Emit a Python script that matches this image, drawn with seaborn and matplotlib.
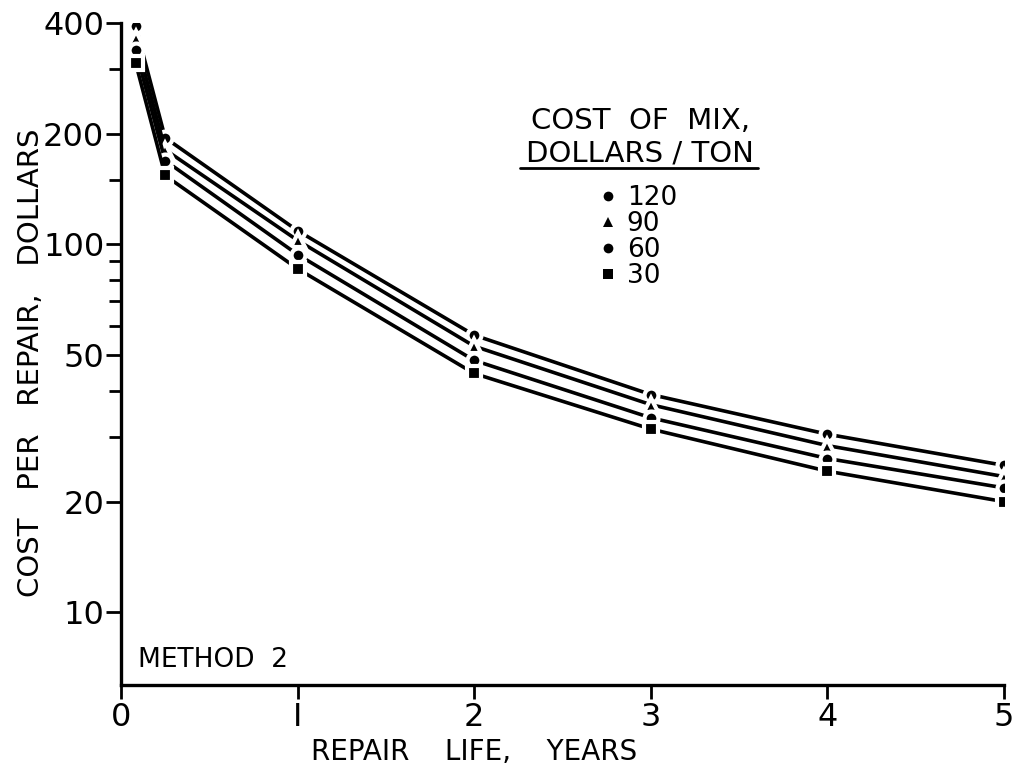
import pandas as pd
import numpy as np
import matplotlib
matplotlib.use("Agg")
import matplotlib.pyplot as plt
from matplotlib.ticker import FixedLocator, NullFormatter
import seaborn as sns

# repair life (years) and cost per repair (dollars) for each cost of mix
years = [1 / 12, 0.25, 1, 2, 3, 4, 5]
cost_120 = [392, 195, 109, 56.7, 39.1, 30.5, 25.1]
cost_90 = [363, 181, 102.6, 52.9, 36.7, 28.4, 23.4]
cost_60 = [337, 169, 93.9, 48.4, 33.8, 26.2, 21.8]
cost_30 = [311, 154, 85.9, 44.6, 31.5, 24.2, 20.0]
mix_labels = ["120", "90", "60", "30"]

y_major = [10, 20, 50, 100, 200, 400]
y_minor = [30, 40, 60, 70, 80, 90, 150, 300]
x_ticks = [0, 1, 2, 3, 4, 5]

rows = []
for lab, vals in zip(mix_labels, [cost_120, cost_90, cost_60, cost_30]):
    for x, v in zip(years, vals):
        rows.append({"years": x, "cost": v, "mix": lab})
df = pd.DataFrame(rows)

sns.set_style("ticks", {"axes.edgecolor": "black", "text.color": "black",
                        "axes.labelcolor": "black", "xtick.color": "black",
                        "ytick.color": "black"})
plt.rcParams['font.family'] = ['DejaVu Sans']

fig = plt.figure(figsize=(10.15, 7.65), dpi=100)
ax = fig.add_axes([0.1192, 0.1046, 0.870, 0.8654])

sns.lineplot(data=df, x="years", y="cost", hue="mix", style="mix",
             hue_order=mix_labels, style_order=mix_labels,
             palette=["black"] * 4,
             markers={"120": "o", "90": "^", "60": "o", "30": "s"},
             dashes=False, lw=2.6, markersize=10, markeredgecolor="white",
             markeredgewidth=3, ax=ax, legend=True)

ax.set_yscale("log")
ax.set_ylim(6.35, 400)
ax.set_xlim(0, 5)
ax.yaxis.set_major_locator(FixedLocator(y_major))
ax.yaxis.set_minor_locator(FixedLocator(y_minor))
ax.yaxis.set_minor_formatter(NullFormatter())
ax.set_yticklabels([str(v) for v in y_major])
ax.set_xticks(x_ticks)
ax.set_xticklabels(["0", "I", "2", "3", "4", "5"])

ax.tick_params(axis="y", which="major", length=11, width=2, labelsize=23, pad=1)
ax.tick_params(axis="y", which="minor", length=9, width=2)
ax.tick_params(axis="x", which="major", length=10, width=2, labelsize=23, pad=2)

sns.despine(ax=ax)
for s in ["left", "bottom"]:
    ax.spines[s].set_linewidth(2.4)

ax.set_xlabel("REPAIR    LIFE,    YEARS", fontsize=20)
ax.xaxis.set_label_coords(0.40, -0.080)
ax.set_ylabel("COST   PER   REPAIR,   DOLLARS", fontsize=21)
ax.yaxis.set_label_coords(-0.086, 0.486)

ax.text(0.019, 0.038, "METHOD  2", transform=ax.transAxes, fontsize=19,
        ha="left", va="center")

# legend title with underline
ax.text(0.588, 0.828, "COST  OF  MIX,\nDOLLARS / TON", transform=ax.transAxes,
        fontsize=21, ha="center", va="center", linespacing=1.2)
ax.plot([0.452, 0.721], [0.781, 0.781], transform=ax.transAxes,
        color="black", lw=2, clip_on=False)

handles, labels = ax.get_legend_handles_labels()
for h in handles:
    h.set_linestyle("")
    h.set_markersize(7)
    h.set_markeredgewidth(0)
leg = ax.legend(handles, labels, loc="upper center", bbox_to_anchor=(0.584, 0.787),
                frameon=False, fontsize=19, labelspacing=0.0,
                handletextpad=0.25, handlelength=0.9, borderpad=0.3)

fig.savefig("out.png", dpi=100)
